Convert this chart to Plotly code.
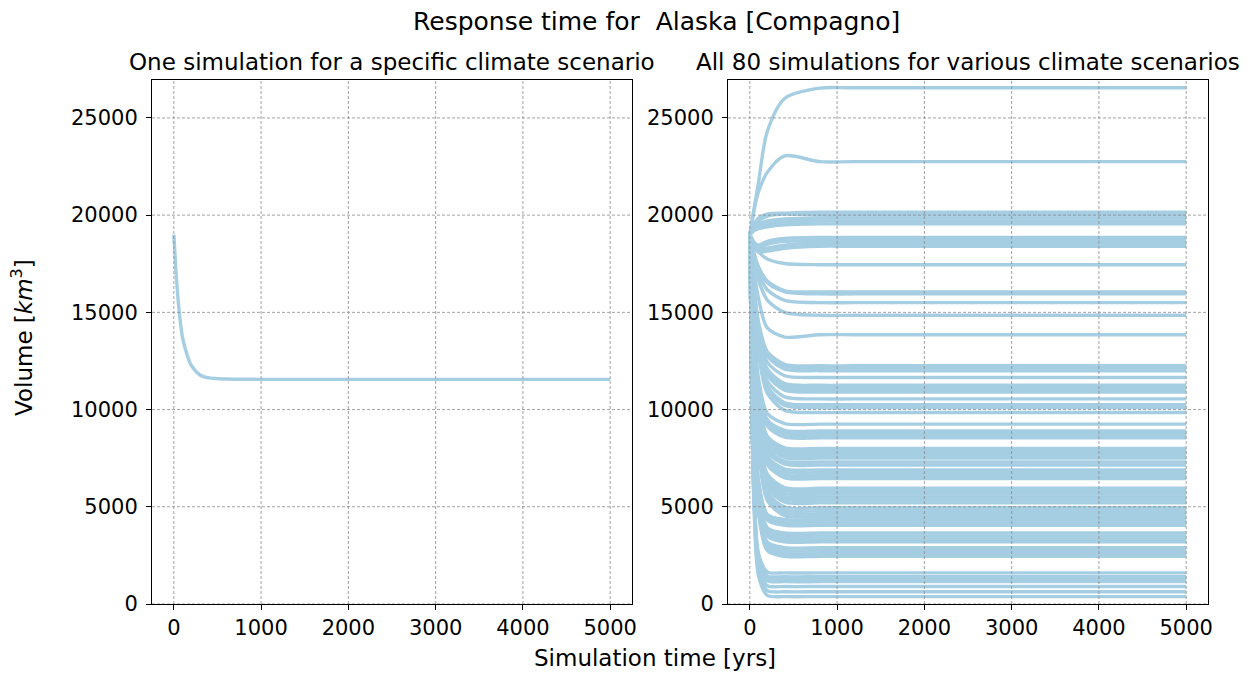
import plotly.graph_objects as go

# Single run: glacier volume (km^3) against simulation time (years)
years_one = [0, 25, 50, 75, 100, 150, 200, 300, 400, 600, 1000, 1500, 5000]
volume_one = [19000, 17100, 15600, 14500, 13700, 12850, 12270, 11780, 11630, 11570, 11555, 11555, 11555]

# All 80 runs, sampled on a shared set of years
years_all = [0, 25, 50, 100, 200, 400, 800, 1200, 5000]
volumes_all = [
    [19000, 19700, 20350, 21700, 24300, 26000, 26530, 26550, 26550],
    [19000, 19600, 20300, 21200, 22200, 23050, 22750, 22750, 22750],
    [19000, 19300, 19550, 19850, 20050, 20100, 20150, 20150, 20150],
    [19000, 19250, 19450, 19700, 19950, 20050, 20000, 20000, 20000],
    [19000, 19200, 19350, 19550, 19700, 19800, 19850, 19850, 19850],
    [19000, 19150, 19300, 19450, 19550, 19650, 19700, 19700, 19700],
    [19000, 19100, 19200, 19300, 19400, 19500, 19550, 19550, 19550],
    [19000, 18800, 18600, 18450, 18650, 18800, 18850, 18850, 18850],
    [19000, 18750, 18500, 18300, 18500, 18650, 18700, 18700, 18700],
    [19000, 18700, 18450, 18200, 18300, 18450, 18550, 18550, 18550],
    [19000, 18650, 18350, 18100, 18150, 18300, 18400, 18400, 18400],
    [19000, 18720, 18470, 18120, 17740, 17510, 17450, 17450, 17450],
    [19000, 18440, 17990, 17330, 16610, 16110, 16050, 16050, 16050],
    [19000, 18430, 17960, 17280, 16530, 16060, 15950, 15950, 15950],
    [19000, 18340, 17810, 17020, 16160, 15620, 15500, 15500, 15500],
    [19000, 18220, 17590, 16660, 15630, 15000, 14850, 14850, 14850],
    [19000, 18000, 17100, 15700, 14200, 13730, 13850, 13850, 13850],
    [19000, 17360, 16130, 14470, 12980, 12330, 12250, 12250, 12250],
    [19000, 17340, 16080, 14400, 12890, 12230, 12150, 12150, 12150],
    [19000, 17300, 16020, 14300, 12760, 12080, 12000, 12000, 12000],
    [19000, 17210, 15870, 14070, 12440, 11740, 11650, 11650, 11650],
    [19000, 17120, 15700, 13800, 12090, 11340, 11250, 11250, 11250],
    [19000, 17090, 15660, 13730, 12000, 11240, 11150, 11150, 11150],
    [19000, 17060, 15590, 13630, 11860, 11100, 11000, 11000, 11000],
    [19000, 17030, 15550, 13570, 11780, 11000, 10900, 10900, 10900],
    [19000, 16950, 15400, 13330, 11460, 10650, 10550, 10550, 10550],
    [19000, 16870, 15270, 13130, 11200, 10350, 10250, 10250, 10250],
    [19000, 16840, 15210, 13030, 11060, 10210, 10100, 10100, 10100],
    [19000, 16780, 15100, 12860, 10840, 9960, 9850, 9850, 9850],
    [19000, 16080, 14030, 11590, 9810, 9280, 9250, 9250, 9250],
    [19000, 15970, 13850, 11320, 9480, 8930, 8900, 8900, 8900],
    [19000, 15940, 13800, 11250, 9380, 8830, 8800, 8800, 8800],
    [19000, 15910, 13750, 11170, 9290, 8730, 8700, 8700, 8700],
    [19000, 15900, 13720, 11130, 9240, 8680, 8650, 8650, 8650],
    [19000, 15870, 13670, 11060, 9150, 8580, 8550, 8550, 8550],
    [19000, 15700, 13390, 10640, 8630, 8030, 8000, 8000, 8000],
    [19000, 15670, 13340, 10560, 8530, 7930, 7900, 7900, 7900],
    [19000, 15660, 13310, 10530, 8490, 7880, 7850, 7850, 7850],
    [19000, 15630, 13260, 10450, 8390, 7780, 7750, 7750, 7750],
    [19000, 15580, 13190, 10340, 8250, 7630, 7600, 7600, 7600],
    [19000, 15550, 13140, 10260, 8160, 7530, 7500, 7500, 7500],
    [19000, 15490, 13030, 10110, 7970, 7340, 7300, 7300, 7300],
    [19000, 15450, 12960, 9990, 7830, 7190, 7150, 7150, 7150],
    [19000, 15370, 12830, 9800, 7590, 6940, 6900, 6900, 6900],
    [19000, 15330, 12750, 9690, 7450, 6790, 6750, 6750, 6750],
    [19000, 15280, 12680, 9580, 7310, 6640, 6600, 6600, 6600],
    [19000, 15250, 12630, 9500, 7210, 6540, 6500, 6500, 6500],
    [19000, 15240, 12600, 9460, 7170, 6490, 6450, 6450, 6450],
    [19000, 15090, 12350, 9080, 6690, 5990, 5950, 5950, 5950],
    [19000, 15040, 12270, 8970, 6550, 5840, 5800, 5800, 5800],
    [19000, 15000, 12190, 8850, 6410, 5690, 5650, 5650, 5650],
    [19000, 14950, 12120, 8740, 6270, 5540, 5500, 5500, 5500],
    [19000, 14920, 12060, 8660, 6180, 5440, 5400, 5400, 5400],
    [19000, 14910, 12040, 8630, 6130, 5390, 5350, 5350, 5350],
    [19000, 14860, 11960, 8510, 5990, 5240, 5200, 5200, 5200],
    [19000, 14790, 11840, 8320, 5750, 4990, 4950, 4950, 4950],
    [19000, 14740, 11760, 8210, 5610, 4840, 4800, 4800, 4800],
    [19000, 14700, 11680, 8090, 5470, 4690, 4650, 4650, 4650],
    [19000, 14650, 11610, 7980, 5330, 4540, 4500, 4500, 4500],
    [19000, 13240, 9740, 6330, 4610, 4350, 4350, 4350, 4350],
    [19000, 13200, 9680, 6240, 4520, 4250, 4250, 4250, 4250],
    [19000, 13160, 9620, 6160, 4420, 4150, 4150, 4150, 4150],
    [19000, 13130, 9550, 6070, 4320, 4050, 4050, 4050, 4050],
    [19000, 12970, 9300, 5720, 3930, 3650, 3650, 3650, 3650],
    [19000, 12910, 9200, 5590, 3780, 3500, 3500, 3500, 3500],
    [19000, 12850, 9110, 5460, 3630, 3350, 3350, 3350, 3350],
    [19000, 12830, 9080, 5420, 3580, 3300, 3300, 3300, 3300],
    [19000, 12790, 9010, 5330, 3480, 3200, 3200, 3200, 3200],
    [19000, 12670, 8830, 5070, 3190, 2900, 2900, 2900, 2900],
    [19000, 12610, 8730, 4940, 3040, 2750, 2750, 2750, 2750],
    [19000, 12560, 8640, 4810, 2900, 2600, 2600, 2600, 2600],
    [19000, 12540, 8600, 4770, 2850, 2550, 2550, 2550, 2550],
    [19000, 12500, 8540, 4680, 2750, 2450, 2450, 2450, 2450],
    [19000, 10130, 5780, 2590, 1650, 1600, 1600, 1600, 1600],
    [19000, 10020, 5620, 2400, 1450, 1400, 1400, 1400, 1400],
    [19000, 9970, 5550, 2310, 1350, 1300, 1300, 1300, 1300],
    [19000, 9900, 5430, 2170, 1200, 1150, 1150, 1150, 1150],
    [19000, 9770, 5240, 1930, 950, 900, 900, 900, 900],
    [19000, 9630, 5040, 1680, 690, 630, 630, 630, 630],
    [19000, 9500, 4850, 1440, 440, 380, 380, 380, 380],
]

x_ticks = [0, 1000, 2000, 3000, 4000, 5000]
y_ticks = [0, 5000, 10000, 15000, 20000, 25000]

main_title = "Response time for  Alaska [Compagno]"
left_title = "One simulation for a specific climate scenario"
right_title = "All 80 simulations for various climate scenarios"
x_title = "Simulation time [yrs]"
y_title = "Volume [<i>km</i><sup>3</sup>]"

LINE_COLOR = "#a6cee3"
FONT = "DejaVu Sans"
W, H = 1250, 673
M_L, M_R, M_T, M_B = 152, 42, 80, 69
PW = W - M_L - M_R
PH = H - M_T - M_B


def px(x):
    return (x - M_L) / PW


def py(y):
    return (H - M_B - y) / PH


fig = go.Figure()

line_style = dict(color=LINE_COLOR, width=3.4, shape="spline", smoothing=0.8)

fig.add_trace(go.Scatter(
    x=years_one, y=volume_one, mode="lines", line=line_style,
    xaxis="x", yaxis="y", showlegend=False, hoverinfo="skip",
))

for vol in volumes_all:
    fig.add_trace(go.Scatter(
        x=years_all, y=vol, mode="lines", line=line_style,
        xaxis="x2", yaxis="y2", showlegend=False, hoverinfo="skip",
    ))

axis_common = dict(
    showline=True, linecolor="black", linewidth=1, mirror=True,
    ticks="outside", ticklen=5, tickwidth=1, tickcolor="black",
    showgrid=False, zeroline=False, tickformat="d",
    tickfont=dict(family=FONT, size=21, color="black"),
    layer="above traces",
)

fig.update_layout(
    width=W, height=H,
    margin=dict(l=M_L, r=M_R, t=M_T, b=M_B),
    paper_bgcolor="white", plot_bgcolor="white",
    font=dict(family=FONT, color="black"),
    xaxis=dict(domain=[0, px(632)], range=[-250, 5250], tickvals=x_ticks,
               anchor="y", **axis_common),
    yaxis=dict(domain=[0, 1], range=[0, 26950], tickvals=y_ticks,
               anchor="x", ticklabelstandoff=4, **axis_common),
    xaxis2=dict(domain=[px(728), 1], range=[-250, 5250], tickvals=x_ticks,
                anchor="y2", **axis_common),
    yaxis2=dict(domain=[0, 1], range=[0, 26950], tickvals=y_ticks,
                anchor="x2", ticklabelstandoff=4, **axis_common),
    showlegend=False,
)

# Dashed grid drawn over the curves
grid_line = dict(color="#8c8c8c", width=0.8, dash="3px,2px")
for xa, ya in (("x", "y"), ("x2", "y2")):
    for t in x_ticks:
        fig.add_shape(type="line", xref=xa, yref=f"{ya} domain",
                      x0=t, x1=t, y0=0, y1=1, line=grid_line, layer="above")
    for v in y_ticks:
        fig.add_shape(type="line", xref=f"{xa} domain", yref=ya,
                      x0=0, x1=1, y0=v, y1=v, line=grid_line, layer="above")

annotations = [
    dict(text=main_title, x=px(656), y=py(21), size=25, angle=0),
    dict(text=left_title, x=px(392), y=py(62), size=23, angle=0),
    dict(text=right_title, x=px(968), y=py(62), size=23, angle=0),
    dict(text=x_title, x=px(655), y=py(658), size=23, angle=0),
    dict(text=y_title, x=px(22), y=py(338), size=23, angle=-90),
]
for a in annotations:
    fig.add_annotation(
        text=a["text"], x=a["x"], y=a["y"], xref="paper", yref="paper",
        xanchor="center", yanchor="middle", showarrow=False,
        textangle=a["angle"], font=dict(family=FONT, size=a["size"], color="black"),
    )

fig.write_html("out.html")
